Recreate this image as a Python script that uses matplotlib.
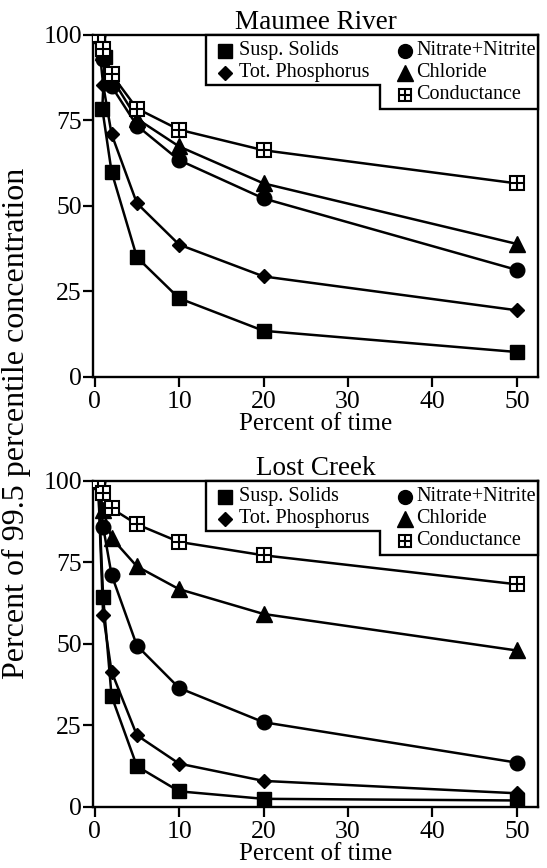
import matplotlib
matplotlib.use('Agg')
from matplotlib import pyplot as plt
from matplotlib.patches import Polygon

plt.rcParams['font.family'] = ['Liberation Serif', 'DejaVu Serif']

# Maumee River
maumee_x = [0.4, 1, 2, 5, 10, 20, 50]
maumee_susp_x = [0.4, 1.2, 0.9, 2, 5, 10, 20, 50]
maumee_susp = [100, 93.5, 78.5, 60, 35, 23, 13.5, 7.3]
maumee_phos = [100, 85.5, 71, 50.8, 38.7, 29.4, 19.5]
maumee_nitr = [100, 93, 85, 73.5, 63.4, 52.2, 31.3]
maumee_chlor = [100, 95, 87.5, 75.5, 67.4, 56.6, 38.9]
maumee_cond = [100, 96, 88.5, 78.5, 72.3, 66.3, 56.6]

# Lost Creek
lost_x = [0.4, 1, 2, 5, 10, 20, 50]
lost_susp = [100, 64.5, 34, 12.5, 4.8, 2.5, 2]
lost_phos = [100, 59, 41.5, 22, 13.3, 8, 4.2]
lost_nitr = [100, 86, 71.2, 49.5, 36.5, 26, 13.6]
lost_chlor = [100, 91, 82.5, 73.8, 66.8, 59.2, 48]
lost_cond = [100, 96.2, 91.6, 86.7, 81.3, 77.2, 68.3]

xticks = [0, 10, 20, 30, 40, 50]
yticks = [0, 25, 50, 75, 100]

LW = 1.8


def draw_cond(ax, x, y, ms, **kw):
    ax.plot(x, y, 's', ms=ms, mfc='white', mec='black', mew=1.5, **kw)
    ax.plot(x, y, '+', ms=ms, mec='black', mew=1.5, **kw)


def draw_panel(ax, title, sx, susp, x, phos, nitr, chlor, cond):
    ax.plot(x, cond, '-', color='black', lw=LW)
    draw_cond(ax, x, cond, 10, zorder=3)
    ax.plot(x, chlor, '-^', color='black', lw=LW, ms=11)
    ax.plot(x, nitr, '-o', color='black', lw=LW, ms=10.5)
    ax.plot(x, phos, '-D', color='black', lw=LW, ms=7.5)
    ax.plot(sx, susp, '-s', color='black', lw=LW, ms=10.5)

    ax.set_xlim(-0.2, 52.5)
    ax.set_ylim(0, 100)
    ax.set_xticks(xticks)
    ax.set_yticks(yticks)
    ax.tick_params(axis='x', length=7, width=1.6, pad=3, labelsize=18.5)
    ax.tick_params(axis='y', length=7, width=1.6, pad=1, labelsize=18.5)
    for s in ax.spines.values():
        s.set_linewidth(1.7)
    ax.set_title(title, fontsize=19.5, pad=1)
    ax.set_xlabel('Percent of time', fontsize=18, labelpad=0)

    # stepped legend box
    fig = ax.figure
    bb = ax.get_position()
    hpx = bb.height * fig.get_figheight() * fig.dpi
    wpx = bb.width * fig.get_figwidth() * fig.dpi

    def fy(off):
        return 1 - off / hpx

    def fx(px):
        return px / wpx

    xl, xs = fx(113), fx(287)
    poly = Polygon([(xl, 1), (xl, fy(50)), (xs, fy(50)), (xs, fy(74)),
                    (1, fy(74)), (1, 1)], closed=True, transform=ax.transAxes,
                   facecolor='white', edgecolor='black', lw=1.7, zorder=5,
                   clip_on=False)
    ax.add_patch(poly)
    rows = [fy(16), fy(38), fy(60)]
    c1m, c1t = fx(132), fx(146)
    c2m, c2t = fx(312), fx(323)
    kw = dict(transform=ax.transAxes, clip_on=False, zorder=6, color='black')
    ax.plot([c1m], [rows[0]], 's', ms=10, **kw)
    ax.plot([c1m], [rows[1]], 'D', ms=7, **kw)
    ax.plot([c2m], [rows[0]], 'o', ms=10, **kw)
    ax.plot([c2m], [rows[1]], '^', ms=11, **kw)
    draw_cond(ax, [c2m], [rows[2]], 8, transform=ax.transAxes, clip_on=False,
              zorder=6)
    tkw = dict(transform=ax.transAxes, fontsize=14.5, va='center', ha='left',
               zorder=7)
    ax.text(c1t, rows[0], 'Susp. Solids', **tkw)
    ax.text(c1t, rows[1], 'Tot. Phosphorus', **tkw)
    ax.text(c2t, rows[0], 'Nitrate+Nitrite', **tkw)
    ax.text(c2t, rows[1], 'Chloride', **tkw)
    ax.text(c2t, rows[2], 'Conductance', **tkw)


fig = plt.figure(figsize=(5.47, 8.68), dpi=100)
ax1 = fig.add_axes([0.170, 0.5657, 0.8135, 0.394])
ax2 = fig.add_axes([0.170, 0.0703, 0.8135, 0.3756])

draw_panel(ax1, 'Maumee River', maumee_susp_x, maumee_susp, maumee_x,
           maumee_phos, maumee_nitr, maumee_chlor, maumee_cond)
draw_panel(ax2, 'Lost Creek', lost_x, lost_susp, lost_x,
           lost_phos, lost_nitr, lost_chlor, lost_cond)

fig.text(0.031, 0.512, 'Percent of 99.5 percentile concentration',
         rotation=90, ha='center', va='center', fontsize=23)

fig.savefig('out.png', dpi=100)
